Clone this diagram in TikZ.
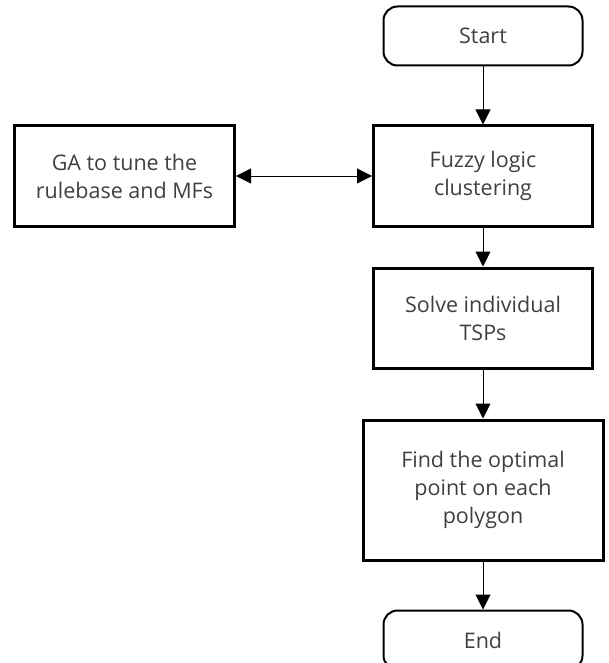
\documentclass[tikz,border=0pt]{standalone}
\usepackage{fontspec}
\setmainfont{Open Sans}
\usetikzlibrary{arrows.meta,positioning}

\begin{document}
\begin{tikzpicture}[
  x=1pt, y=1pt,
  every node/.style={font=\fontsize{21.5}{28}\selectfont, text=black!75, align=center, inner sep=2pt},
  process/.style={draw, rectangle, line width=3pt, minimum width=219pt, minimum height=100pt},
  terminal/.style={draw, rectangle, rounded corners=14pt, line width=2pt, minimum width=199pt, minimum height=59pt},
  flow/.style={draw, line width=1pt, -{Triangle[width=15pt,length=15pt]}}
]
\useasboundingbox (0,0) rectangle (608,-663);
\node[terminal] (start) at (483,-36) {Start};
\node[process, below=58pt of start] (fuzzy) {Fuzzy logic\\clustering};
\node[process, left=136pt of fuzzy, minimum width=220pt] (ga) {GA to tune the\\rulebase and MFs};
\node[process, below=39pt of fuzzy] (solve) {Solve individual\\TSPs};
\node[process, below=49pt of solve, minimum width=240pt, minimum height=140pt] (find) {Find the optimal\\point on each\\polygon};
\node[terminal, below=48pt of find] (end) {End};

\draw[flow] (start) -- (fuzzy);
\draw[flow, {Triangle[width=15pt,length=15pt]}-{Triangle[width=15pt,length=15pt]}] (ga) -- (fuzzy);
\draw[flow] (fuzzy) -- (solve);
\draw[flow] (solve) -- (find);
\draw[flow] (find) -- (end);
\end{tikzpicture}
\end{document}
